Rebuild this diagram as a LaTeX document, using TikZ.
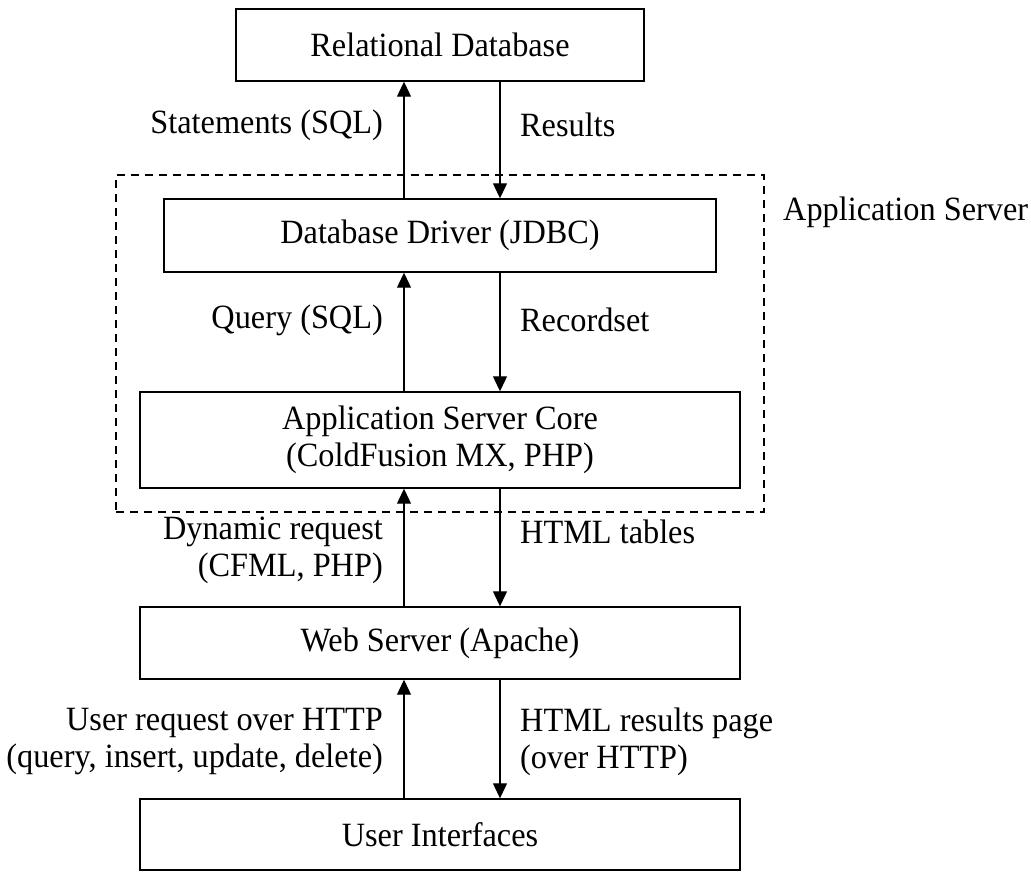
\documentclass[tikz,border=0pt]{standalone}
\usepackage{fontspec}
\setmainfont{Liberation Serif}[FakeStretch=0.95]
\usetikzlibrary{arrows.meta}

\tikzset{
  layer/.style={draw, line width=1.4pt, inner sep=0pt, align=center},
  flow/.style={line width=1.1pt, -{Triangle[width=14pt,length=15pt]}},
  group/.style={draw, line width=1.3pt, dash pattern=on 8pt off 6pt, inner sep=0pt},
  lbl/.style={inner sep=0pt},
}

\begin{document}
\begin{tikzpicture}[x=1pt, y=-1pt, font=\fontsize{34}{37}\selectfont]
  \useasboundingbox (0,0) rectangle (1031,871);

  % x positions of the upward and downward connectors
  \coordinate (up) at (404,0);
  \coordinate (dn) at (500,0);

  % application server grouping
  \node[group, minimum width=648pt, minimum height=337pt] (appsrv) at (440,343.5) {};
  \node[lbl, anchor=west] (appsrvlbl) at (783,212) {Application Server};

  % layers
  \node[layer, minimum width=408pt, minimum height=72pt] (rdb) at (440,45) {Relational Database};
  \node[layer, minimum width=552pt, minimum height=73pt] (drv) at (440,235.5) {Database Driver (JDBC)};
  \node[layer, minimum width=600pt, minimum height=96pt] (core) at (440,440) {Application Server Core\\(ColdFusion MX, PHP)};
  \node[layer, minimum width=600pt, minimum height=72pt] (web) at (440,643) {Web Server (Apache)};
  \node[layer, minimum width=600pt, minimum height=71pt] (ui) at (440,834.5) {User Interfaces};

  % connectors
  \draw[flow] (drv.north -| up) -- (rdb.south -| up);
  \draw[flow] (rdb.south -| dn) -- (drv.north -| dn);
  \draw[flow] (core.north -| up) -- (drv.south -| up);
  \draw[flow] (drv.south -| dn) -- (core.north -| dn);
  \draw[flow] (web.north -| up) -- (core.south -| up);
  \draw[flow] (core.south -| dn) -- (web.north -| dn);
  \draw[flow] (ui.north -| up) -- (web.south -| up);
  \draw[flow] (web.south -| dn) -- (ui.north -| dn);

  % connector labels
  \node[lbl, anchor=east] (l1) at (383,125) {Statements (SQL)};
  \node[lbl, anchor=west] (r1) at (520,125) {Results};
  \node[lbl, anchor=east] (l2) at (383,320) {Query (SQL)};
  \node[lbl, anchor=west] (r2) at (520,320) {Recordset};
  \node[lbl, anchor=east, align=right] (l3) at (383,550) {Dynamic request\\(CFML, PHP)};
  \node[lbl, anchor=west] (r3) at (520,532) {HTML tables};
  \node[lbl, anchor=east, align=right] (l4) at (383,741.5) {User request over HTTP\\(query, insert, update, delete)};
  \node[lbl, anchor=west, align=left] (r4) at (520,741.5) {HTML results page\\(over HTTP)};
\end{tikzpicture}
\end{document}
